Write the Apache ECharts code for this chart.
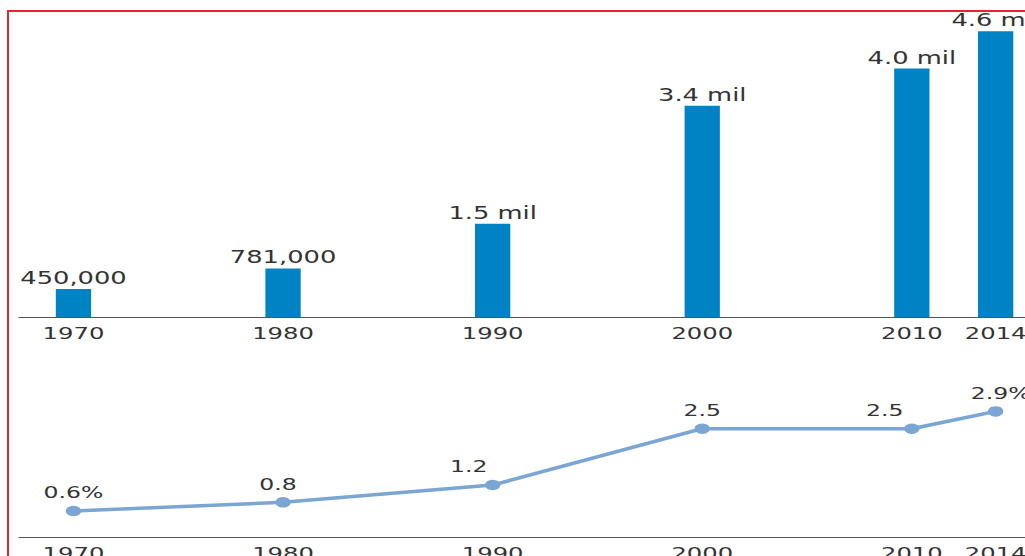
<!DOCTYPE html>
<html>
<head>
<meta charset="utf-8">
<script src="https://cdn.jsdelivr.net/npm/echarts@6/dist/echarts.min.js"></script>
<style>
  html, body { margin: 0; padding: 0; background: #fff; }
  #wrap { position: absolute; left: 0; top: 0; width: 1025px; height: 556px; overflow: hidden; background: #fff; }
  /* the chart is laid out narrow and widened horizontally, giving the wide lettering and oval markers */
  #chart { position: absolute; left: 0; top: 0; width: 697px; height: 556px; transform: scaleX(1.4706); transform-origin: 0 0; }
  #frame { position: absolute; left: 7px; top: 10px; right: -10px; bottom: -10px;
           border-left: 2px solid #e3262d; border-top: 2px solid #e3262d; pointer-events: none; }
</style>
</head>
<body>
<div id="wrap">
  <div id="chart"></div>
  <div id="frame"></div>
</div>
<script>
// Census years
const years = [1970, 1980, 1990, 2000, 2010, 2014];
// Population (people)
const population = [450000, 781000, 1500000, 3400000, 4000000, 4600000];
// Share of total population (%)
const sharePct = [0.6, 0.8, 1.2, 2.5, 2.5, 2.9];
// Year labels printed under each panel
const yearLabels = [1970, 1980, 1990, 2000, 2010, 2014];

// horizontal nudges for the share labels (layout only)
const shareLabelDx = [0, -3.4, -16.3, 0, -18.4, 3.4];

const FONT = 'DejaVu Sans';
const TEXT = '#333';

function popLabel(v) {
  if (v < 1e6) return v.toLocaleString('en-US');
  return (v / 1e6).toFixed(1) + ' mil';
}

const chart = echarts.init(document.getElementById('chart'), null, { renderer: 'svg' });

const xCommon = {
  type: 'value',
  min: 1967.4,
  max: 2015.4,
  axisLine: { show: true, onZero: true, lineStyle: { color: '#555', width: 1 } },
  axisTick: { show: false },
  splitLine: { show: false },
  axisLabel: {
    customValues: yearLabels,
    formatter: v => String(v),
    fontFamily: FONT,
    fontSize: 16.5,
    color: TEXT,
    margin: 8
  }
};

chart.setOption({
  animation: false,
  grid: [
    { left: 12.9, right: 0, top: 6.5, bottom: 239, containLabel: false, outerBoundsMode: 'none' },
    { left: 12.9, right: 0, top: 385.4, bottom: 19, containLabel: false, outerBoundsMode: 'none' }
  ],
  xAxis: [
    Object.assign({ gridIndex: 0 }, xCommon),
    Object.assign({ gridIndex: 1 }, xCommon)
  ],
  yAxis: [
    { gridIndex: 0, type: 'value', min: 0, max: 5000000, show: false, splitLine: { show: false } },
    { gridIndex: 1, type: 'value', min: 0, max: 3.5, show: false, splitLine: { show: false } }
  ],
  series: [
    {
      type: 'bar',
      xAxisIndex: 0,
      yAxisIndex: 0,
      barWidth: 24,
      data: years.map((y, i) => [y, population[i]]),
      itemStyle: { color: '#0083c4' },
      label: {
        show: true,
        position: 'top',
        distance: 2,
        fontFamily: FONT,
        fontSize: 17.5,
        color: TEXT,
        formatter: p => popLabel(p.value[1])
      }
    },
    {
      type: 'line',
      xAxisIndex: 1,
      yAxisIndex: 1,
      data: years.map((y, i) => ({
        value: [y, sharePct[i]],
        label: { offset: [shareLabelDx[i], 0] }
      })),
      symbol: 'circle',
      symbolSize: 10.5,
      lineStyle: { color: '#7ba6d3', width: 3.5 },
      itemStyle: { color: '#7ba6d3' },
      label: {
        show: true,
        position: 'top',
        distance: 5,
        fontFamily: FONT,
        fontSize: 16,
        color: TEXT,
        formatter: p => {
          const v = p.value[1].toFixed(1);
          return (p.dataIndex === 0 || p.dataIndex === years.length - 1) ? v + '%' : v;
        }
      }
    }
  ]
});
</script>
</body>
</html>
